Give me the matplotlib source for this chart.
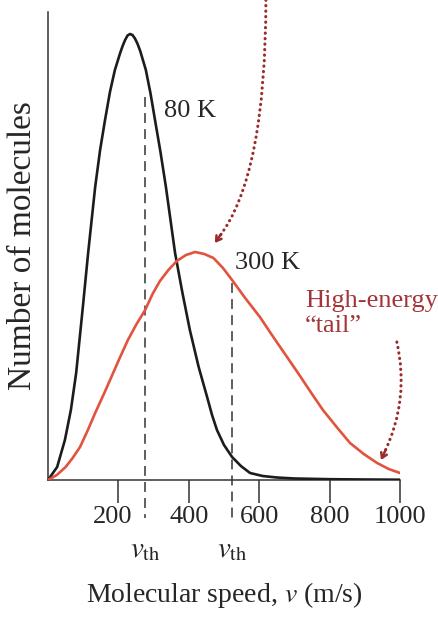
import matplotlib
matplotlib.use("Agg")
import matplotlib.pyplot as plt
import matplotlib.transforms as mtransforms
from matplotlib.path import Path
from matplotlib.patches import PathPatch

# Speed distributions (arbitrary units on the count axis)
speed_80 = [0, 26, 48, 65, 80, 99, 114, 134, 148, 162, 176, 190, 205, 212, 219,
            226, 233, 240, 247, 254, 262, 278, 291, 304, 320, 335, 348, 361, 382,
            403, 428, 452, 466, 480, 500, 523, 548, 574, 610, 650, 700, 800, 900, 1000]
count_80 = [0, 13, 40, 70, 107, 173, 227, 293, 330, 360, 388, 410, 427, 434, 440,
            444.5, 446, 445, 441.5, 436.5, 429, 410, 387, 360, 327, 293, 260, 227, 187,
            150, 113, 83, 65, 50, 35, 23, 14, 7, 4, 2.5, 1.5, 0.8, 0.5, 0.3]

speed_300 = [0, 25, 50, 70, 91, 112, 134, 160, 185, 205, 227, 250, 276, 297, 318,
             342, 366, 392, 418, 444, 470, 497, 523, 560, 602, 640, 679, 716, 750,
             781, 820, 858, 897, 935, 968, 1000]
count_300 = [0, 5, 13, 22, 33, 49, 67, 87, 107, 123, 140, 155, 170, 186, 199,
             210, 219, 225, 228, 226, 222, 212, 200, 182, 163, 143, 123, 104, 86,
             70, 53, 37, 26, 17, 11, 7]

# thermal speeds at 80 K and 300 K and where their guide lines stop
vth_speed = [276, 523]
vth_top = [383, 197]

xticks = [200, 400, 600, 800, 1000]
xtick_labels = ["200", "400", "600", "800", "1000"]

plt.rcParams["font.family"] = ["Liberation Serif", "DejaVu Serif"]
plt.rcParams["mathtext.fontset"] = "stix"

ink = "#262626"
red = "#e2533f"
dark_red = "#a3353a"
dot_red = "#9c2b2b"

fig = plt.figure(figsize=(4.39, 6.19), dpi=100)
ax = fig.add_axes([48 / 439, 139 / 619, 352 / 439, 468 / 619])
ax.set_xlim(0, 1000)
ax.set_ylim(0, 468)

ax.plot(speed_80, count_80, color="#1c1c1c", lw=1.9, solid_joinstyle="round", zorder=3)
ax.plot(speed_300, count_300, color=red, lw=1.9, solid_joinstyle="round", zorder=3)

# dashed guides at the thermal speeds, running below the axis
for v, top in zip(vth_speed, vth_top):
    ax.plot([v, v], [top, -38], color="#333333", lw=1.1, dashes=(6.5, 4),
            clip_on=False, zorder=2)
    ax.text(v, -70, r"$v_{\mathrm{th}}$", ha="center", va="center",
            fontsize=21, color=ink, clip_on=False)

for side in ["top", "right"]:
    ax.spines[side].set_visible(False)
for side in ["left", "bottom"]:
    ax.spines[side].set_color("#333333")
    ax.spines[side].set_linewidth(1.1)

ax.set_yticks([])
ax.set_xticks(xticks)
ax.set_xticklabels(xtick_labels)
ax.tick_params(axis="x", direction="out", length=16.5, width=1.1, pad=2,
               labelsize=19, colors="#333333", labelcolor=ink)
# nudge "200" left, off the dashed guide
first = ax.get_xticklabels()[0]
first.set_transform(first.get_transform()
                    + mtransforms.ScaledTranslation(-6 / 100, 0, fig.dpi_scale_trans))

ax.set_xlabel(r"Molecular speed, $v$ (m/s)", fontsize=20, color=ink)
ax.xaxis.label.set_va("center")
ax.xaxis.set_label_coords(0.5, -0.245)
ax.set_ylabel("Number of molecules", fontsize=24, color=ink)
ax.yaxis.label.set_va("center")
ax.yaxis.set_label_coords(-0.071, 0.5)

ax.text(403, 369, "80 K", ha="center", va="center", fontsize=19, color=ink)
ax.text(625, 217, "300 K", ha="center", va="center", fontsize=19, color=ink)
ax.text(730, 190, "High-energy\n\u201ctail\u201d", ha="left", va="top",
        fontsize=19, color=dark_red, linespacing=1.15, clip_on=False)

# dotted pointers
curves = [
    [(619, 480), (619, 304), (486, 243)],
    [(991, 138), (1028, 80), (955, 27)],
]
heads = [
    ((474, 237), (492, 246)),
    ((946, 20), (959, 30)),
]
for pts in curves:
    path = Path(pts, [Path.MOVETO, Path.CURVE3, Path.CURVE3])
    ax.add_patch(PathPatch(path, fill=False, edgecolor=dot_red, lw=2.2,
                           linestyle=(0, (0.1, 1.7)), capstyle="round",
                           clip_on=False, zorder=4))
for tip, tail in heads:
    ax.annotate("", xy=tip, xytext=tail, annotation_clip=False,
                arrowprops=dict(arrowstyle="->,head_length=0.35,head_width=0.22",
                                color=dot_red, lw=1.8, shrinkA=0, shrinkB=0))

fig.savefig("out.png", dpi=100)
